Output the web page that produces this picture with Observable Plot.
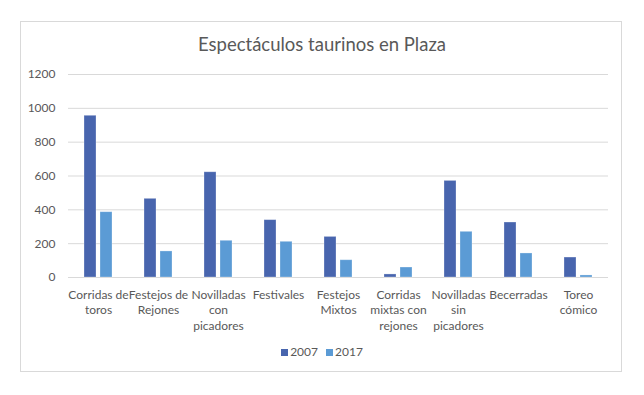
<!DOCTYPE html>
<html>
<head>
<meta charset="utf-8">
<script src="https://cdn.jsdelivr.net/npm/d3@7"></script>
<script src="https://cdn.jsdelivr.net/npm/@observablehq/plot@0.6"></script>
<style>
  html, body { margin: 0; padding: 0; background: #fff; }
  body { width: 644px; height: 395px; position: relative; overflow: hidden; font-family: Lato, "Open Sans", sans-serif; color: #595959; }
  #frame { position: absolute; left: 20px; top: 21px; width: 602px; height: 351px; border: 1px solid #d9d9d9; box-sizing: border-box; }
  #title { position: absolute; left: 0; width: 644px; top: 33px; text-align: center; font-size: 18.5px; color: #595959; }
  #chart { position: absolute; left: 0; top: 0; }
  #legend { position: absolute; left: 0; width: 644px; top: 344px; text-align: center; font-size: 12px; color: #595959; }
  #legend span.sw { display: inline-block; width: 7px; height: 7px; margin-right: 2px; vertical-align: 0px; }
  #legend span.item { margin: 0 4px; }
</style>
</head>
<body>
<div id="frame"></div>
<div id="title">Espectáculos taurinos en Plaza</div>
<div id="chart"></div>
<div id="legend"></div>
<script>
const categories = ["Corridas de toros", "Festejos de Rejones", "Novilladas con picadores", "Festivales", "Festejos Mixtos", "Corridas mixtas con rejones", "Novilladas sin picadores", "Becerradas", "Toreo cómico"];
const categoryLabels = ["Corridas de\ntoros", "Festejos de\nRejones", "Novilladas\ncon\npicadores", "Festivales", "Festejos\nMixtos", "Corridas\nmixtas con\nrejones", "Novilladas\nsin\npicadores", "Becerradas", "Toreo\ncómico"];
const series = ["2007", "2017"];
const values2007 = [956, 465, 622, 339, 240, 18, 571, 325, 118];
const values2017 = [386, 154, 217, 211, 102, 59, 270, 142, 12];
const yTicks = [0, 200, 400, 600, 800, 1000, 1200];
const colors = ["#4865AE", "#5B9BD5"];

const data = categories.flatMap((c, i) => [
  {category: c, year: "2007", value: values2007[i]},
  {category: c, year: "2017", value: values2017[i]}
]);

const chart = Plot.plot({
  width: 644,
  height: 340,
  marginLeft: 67,
  marginRight: 36,
  marginTop: 74,
  marginBottom: 63,
  style: {fontFamily: "Lato, 'Open Sans', sans-serif", fontSize: "12px", color: "#595959", background: "transparent"},
  fx: {domain: categories, padding: 0, axis: null},
  x: {domain: series, paddingInner: 0.22, paddingOuter: 0.9, axis: null},
  y: {domain: [0, 1200], axis: null},
  color: {domain: series, range: colors},
  marks: [
    Plot.gridY(yTicks, {stroke: "#d9d9d9", strokeOpacity: 1, strokeWidth: 1}),
    Plot.barY(data, {fx: "category", x: "year", y: "value", fill: "year", stroke: "#ffffff", strokeOpacity: 0.35, strokeWidth: 0.8}),
    Plot.axisY(yTicks, {anchor: "left", tickSize: 0, tickPadding: 13, label: null, fill: "#595959", fontSize: 12, tickFormat: d => String(d)}),
    Plot.axisFx({anchor: "bottom", tickSize: 0, tickPadding: 10, label: null, lineHeight: 1.3, fill: "#595959", fontSize: 12,
      tickFormat: d => categoryLabels[categories.indexOf(d)]})
  ]
});
document.getElementById("chart").appendChild(chart);

const legend = document.getElementById("legend");
series.forEach((s, i) => {
  const item = document.createElement("span");
  item.className = "item";
  const sw = document.createElement("span");
  sw.className = "sw";
  sw.style.background = colors[i];
  item.appendChild(sw);
  item.appendChild(document.createTextNode(s));
  legend.appendChild(item);
});
</script>
</body>
</html>
